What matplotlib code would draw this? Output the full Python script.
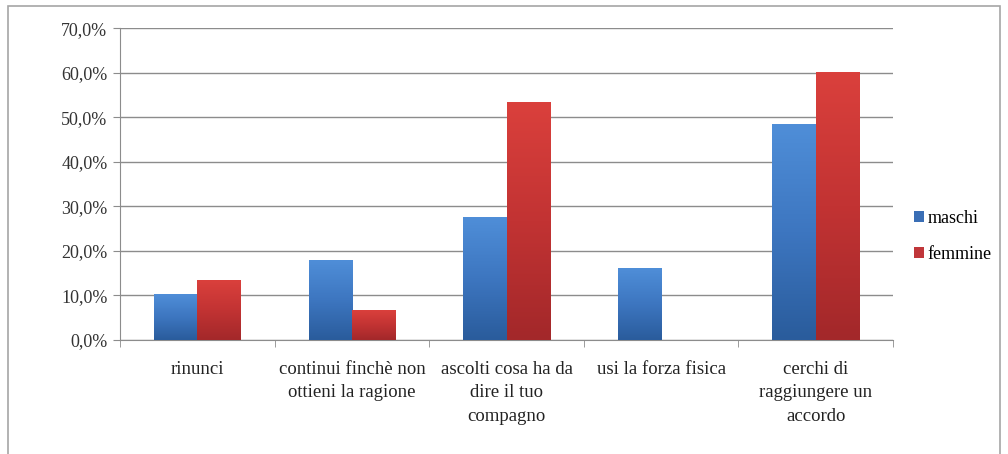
import numpy as np
import matplotlib
matplotlib.use("Agg")
import matplotlib.pyplot as plt
from matplotlib.colors import LinearSegmentedColormap
from matplotlib.patches import Rectangle, Patch

# data
categories = [
    "rinunci",
    "continui finchè non\nottieni la ragione",
    "ascolti cosa ha da\ndire il tuo\ncompagno",
    "usi la forza fisica",
    "cerchi di\nraggiungere un\naccordo",
]
maschi = [10.3, 17.9, 27.6, 16.1, 48.3]
femmine = [13.3, 6.7, 53.3, 0.0, 60.0]
series_names = ["maschi", "femmine"]
y_ticks = [0, 10, 20, 30, 40, 50, 60, 70]

plt.rcParams["font.family"] = ["Liberation Serif", "DejaVu Serif"]

fig = plt.figure(figsize=(10.08, 4.54), dpi=100)
ax = fig.add_axes([0.119, 0.251, 0.767, 0.687])

# outer chart border
fig.patches.append(Rectangle((0.008, -0.01), 0.984, 0.997, transform=fig.transFigure,
                             fill=False, edgecolor="#a6a6a6", linewidth=1.2))

n = len(categories)
x = np.arange(n)
width = 0.28

ax.set_xlim(-0.5, n - 0.5)
ax.set_ylim(0, 70)

blue_cmap = LinearSegmentedColormap.from_list("b", ["#2a5c9c", "#3d76c0", "#4f8ed8"])
red_cmap = LinearSegmentedColormap.from_list("r", ["#a3282a", "#c23333", "#da403c"])
grad = np.linspace(0, 1, 100).reshape(-1, 1)

def gradient_bars(xpos, vals, cmap):
    for xi, v in zip(xpos, vals):
        if v <= 0:
            continue
        ax.imshow(grad, extent=[xi - width / 2, xi + width / 2, 0, v], origin="lower",
                  aspect="auto", cmap=cmap, zorder=3)

gradient_bars(x - width / 2, maschi, blue_cmap)
gradient_bars(x + width / 2, femmine, red_cmap)
ax.set_xlim(-0.5, n - 0.5)
ax.set_ylim(0, 70)

# grid
ax.set_yticks(y_ticks)
ax.set_yticklabels([f"{t:.1f}%".replace(".", ",") for t in y_ticks], fontsize=13, color="#333333")
ax.yaxis.grid(True, color="#8c8c8c", linewidth=1.0)
ax.set_axisbelow(True)

ax.set_xticks(x)
ax.set_xticklabels(categories, fontsize=13.5, linespacing=1.5, color="#222222")
ax.tick_params(axis="x", length=0, pad=15)
ax.set_xticks(np.arange(n + 1) - 0.5, minor=True)
ax.tick_params(axis="x", which="minor", length=5, color="#8c8c8c")
ax.tick_params(axis="y", length=5, color="#8c8c8c", pad=4)

for s in ["top", "right"]:
    ax.spines[s].set_visible(False)
for s in ["left", "bottom"]:
    ax.spines[s].set_color("#8c8c8c")

handles = [Patch(facecolor="#3a6eb5", edgecolor="none"),
           Patch(facecolor="#c0363a", edgecolor="none")]
fig.legend(handles, series_names, loc="center left", bbox_to_anchor=(0.891, 0.48),
           frameon=False, fontsize=13, handlelength=0.55, handleheight=0.55,
           handletextpad=0.2, labelspacing=1.05)

fig.savefig("out.png", dpi=100)
